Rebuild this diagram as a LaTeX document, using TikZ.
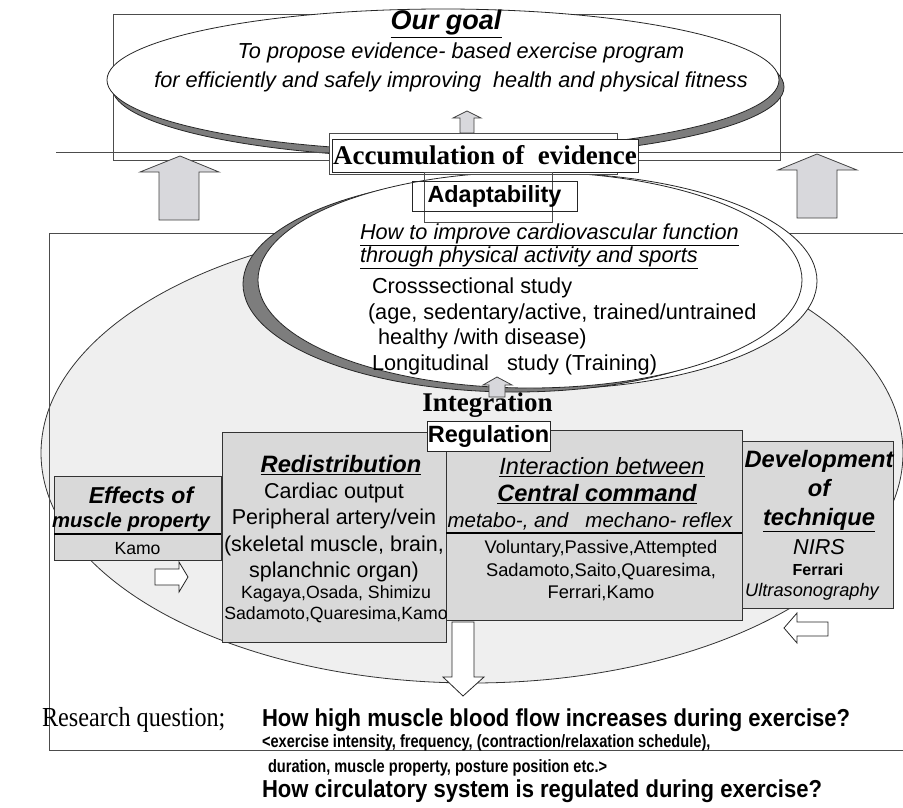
\documentclass[tikz,border=0pt]{standalone}
\usepackage{fontspec}
\setmainfont{Liberation Sans}
\newfontfamily\timesfont{Liberation Serif}
\newfontfamily\narrowfont[FakeStretch=0.82]{Liberation Sans}
\newfontfamily\questfont[FakeStretch=0.90]{Liberation Sans}
\newfontfamily\narrowtimes[FakeStretch=0.88]{Liberation Serif}
\usepackage{tikz}
\usetikzlibrary{positioning,calc}

\definecolor{boxgray}{RGB}{217,217,217}
\definecolor{ovalgray}{RGB}{239,239,239}
\definecolor{arrowgray}{RGB}{216,216,220}
\definecolor{hatchgray}{RGB}{125,125,125}

\begin{document}
\begin{tikzpicture}[
    x=1pt, y=-1pt,
    line width=0.8pt,
    every node/.style={inner sep=0pt, outer sep=0pt},
    frame/.style={draw=black!70},
    oval/.style={draw=black!85, fill=white},
    ovalshadow/.style={draw=black!85, fill=hatchgray},
    greybox/.style={draw=black!80, fill=boxgray, line width=0.9pt},
    whitebox/.style={draw=black!85, fill=white},
    bigarrow/.style={draw=black!75, fill=arrowgray},
    whitearrow/.style={draw=black!85, fill=white},
    head/.style={font=\fontsize{23.7}{29}\selectfont\bfseries\itshape, align=center},
    body/.style={font=\fontsize{21.5}{26.3}\selectfont, align=center},
    names/.style={font=\fontsize{17.7}{21}\selectfont, align=center},
    question/.style={font=\questfont\bfseries\fontsize{24.5}{28}\selectfont, anchor=west},
    remark/.style={font=\narrowfont\bfseries\fontsize{17.8}{20}\selectfont, anchor=west}
]
\useasboundingbox (0,0) rectangle (903,807);

% ============================================================
% GOAL
% ============================================================
\draw[frame] (113,14) rectangle (780,160);
\draw[ovalshadow] (448,87) ellipse [x radius=336pt, y radius=71pt];
\draw[oval] (443,80) ellipse [x radius=336pt, y radius=71pt];
\draw[frame] (56,152) -- (903,152);

\node[font=\fontsize{27}{30}\selectfont\bfseries\itshape] (goal) at (446,24) {\underline{Our goal}};
\node[font=\fontsize{21.7}{24}\selectfont\itshape] (goalA) at (461,53)
    {To propose evidence- based exercise program};
\node[font=\fontsize{21.7}{24}\selectfont\itshape] (goalB) at (451,82)
    {for efficiently and safely improving\ \ health and physical fitness};

% ============================================================
% BIG OVAL AND FRAME
% ============================================================
\draw[draw=black!80, fill=ovalgray] (472,453) ellipse [x radius=431pt, y radius=230pt];
\draw[frame] (49,233) rectangle (905,750);

\draw[bigarrow] (159,220) -- (159,172) -- (140,172) -- (180,156) -- (219,172)
    -- (199,172) -- (199,220) -- cycle;
\draw[bigarrow] (797,218) -- (797,170) -- (778,170) -- (817,154) -- (857,170)
    -- (837,170) -- (837,218) -- cycle;

% ============================================================
% ADAPTABILITY OVAL
% ============================================================
\draw[oval] (545,281) ellipse [x radius=272pt, y radius=108pt];
\draw[ovalshadow] (515,284) ellipse [x radius=272pt, y radius=108pt];
\draw[oval] (530,280) ellipse [x radius=272pt, y radius=108pt];

\draw[bigarrow] (460,133) -- (460,118) -- (453,118) -- (467,111) -- (481,118)
    -- (474,118) -- (474,133) -- cycle;
\draw[frame, fill=white] (329,133) rectangle (617,174);
\node[whitebox, minimum width=306pt, minimum height=33pt,
      font=\timesfont\bfseries\fontsize{27}{30}\selectfont] (accum) at (485,155.5)
    {Accumulation of\ \ evidence};

\draw[frame] (424,172) rectangle (552,222);
\node[draw=black!85, minimum width=165pt, minimum height=30pt,
      font=\fontsize{23.4}{26}\selectfont\bfseries] (adapt) at (494.5,196) {Adaptability};

\node[font=\fontsize{21.7}{22}\selectfont\itshape, align=left, anchor=west] (howto) at (360,246)
    {\underline{How to improve cardiovascular function}\\
     \underline{through physical activity and sports}};
\node[font=\fontsize{21.7}{25.7}\selectfont, align=left, anchor=west] (studies) at (368,326.5)
    {\hspace{4pt}Crosssectional study\\
     (age, sedentary/active, trained/untrained\\
     \hspace{10pt}healthy /with disease)\\
     \hspace{4pt}Longitudinal\ \ \ study (Training)};

% ============================================================
% INTEGRATION / REGULATION
% ============================================================
\draw[bigarrow] (489,397) -- (489,385) -- (483,385) -- (497,377) -- (512,385)
    -- (505,385) -- (505,397) -- cycle;
\node[font=\timesfont\bfseries\fontsize{27}{30}\selectfont] (integr) at (487.5,405) {Integration};

\node[greybox, minimum width=296pt, minimum height=190pt] (cenbox) at (594,525) {};
\node[greybox, minimum width=224pt, minimum height=210pt] (redbox) at (334,537) {};
\node[greybox, minimum width=151pt, minimum height=167pt] (devbox) at (817.5,524.5) {};
\node[greybox, minimum width=167pt, minimum height=84pt] (effbox) at (137.5,518) {};
\draw[black, line width=1.2pt] (effbox.west |- 0,534) -- (effbox.east |- 0,534);
\draw[black, line width=1.2pt] (cenbox.west |- 0,533) -- (cenbox.east |- 0,533);

\node[whitebox, minimum width=123pt, minimum height=30pt,
      font=\fontsize{23.5}{26}\selectfont\bfseries] (regul) at (488.5,436) {Regulation};

% ============================================================
% BOX TEXTS
% ============================================================
\node[head, font=\fontsize{23}{27}\selectfont\bfseries\itshape] (effA) at (141,495) {Effects of};
\node[head, font=\fontsize{20.3}{27}\selectfont\bfseries\itshape] (effB) at (131,522) {muscle property};
\node[names, font=\fontsize{17.6}{20}\selectfont] (effC) at (137.5,549) {Kamo};

\node[head] (redA) at (341,465) {\underline{Redistribution}};
\node[body] (redB) at (334,532.5)
    {Cardiac output\\ Peripheral artery/vein\\ (skeletal muscle, brain,\\ splanchnic organ)};
\node[names] (redC) at (336,604.5) {Kagaya,Osada, Shimizu\\ Sadamoto,Quaresima,Kamo};

\node[font=\fontsize{23.5}{26}\selectfont\itshape] (cenA) at (602,467) {\underline{Interaction between}};
\node[head, font=\fontsize{23.6}{26}\selectfont\bfseries\itshape] (cenB) at (597,494) {\underline{Central command}};
\node[font=\fontsize{20.5}{23}\selectfont\itshape] (cenC) at (590,521)
    {metabo-, and\ \ \ mechano- reflex};
\node[names, font=\fontsize{18.3}{22.5}\selectfont] (cenD) at (601,571)
    {Voluntary,Passive,Attempted\\ Sadamoto,Saito,Quaresima,\\ Ferrari,Kamo};

\node[head] (devA) at (819,491) {Development\\ of\\ \underline{technique}};
\node[font=\fontsize{21.6}{24}\selectfont\itshape] (devB) at (819,547) {NIRS};
\node[font=\fontsize{16}{19}\selectfont\bfseries] (devC) at (818,570) {Ferrari};
\node[font=\fontsize{18.2}{21}\selectfont\itshape] (devD) at (812,592) {Ultrasonography};

% ============================================================
% WHITE ARROWS
% ============================================================
\draw[whitearrow] (155,569) -- (179,569) -- (179,562) -- (188,577) -- (179,592)
    -- (179,585) -- (155,585) -- cycle;
\draw[whitearrow] (828,622) -- (797,622) -- (797,613) -- (784,628) -- (797,643)
    -- (797,636) -- (828,636) -- cycle;
\draw[whitearrow] (452,622) -- (474,622) -- (474,677) -- (484,677) -- (463,696)
    -- (443,677) -- (452,677) -- cycle;

% ============================================================
% RESEARCH QUESTION
% ============================================================
\node[font=\narrowtimes\fontsize{27.5}{30}\selectfont, anchor=west] (rq) at (42,720) {Research question;};
\node[question] (qA) at (262,720) {How high muscle blood flow increases during exercise?};
\node[remark] (qB) at (262,743)
    {<exercise intensity, frequency, (contraction/relaxation schedule),};
\node[remark] (qC) at (268,768)
    {duration, muscle property, posture position etc.>};
\node[question] (qD) at (262,791) {How circulatory system is regulated during exercise?};

\end{tikzpicture}
\end{document}
